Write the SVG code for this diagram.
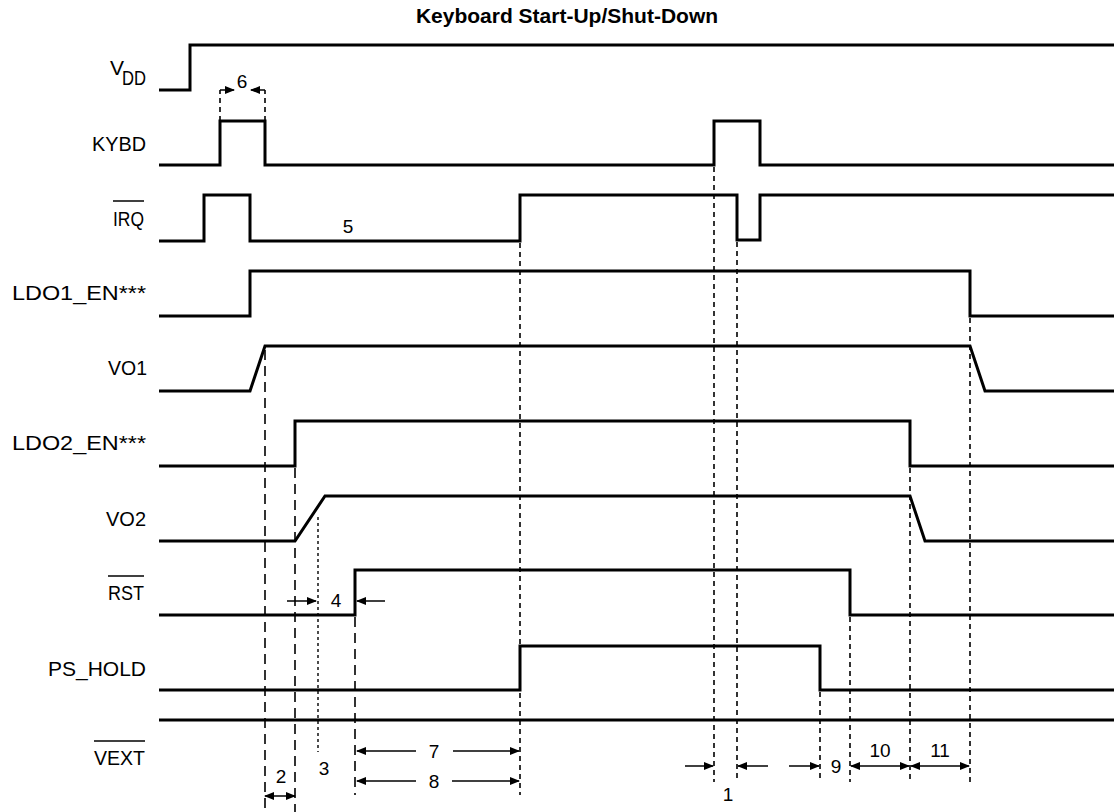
<svg xmlns="http://www.w3.org/2000/svg" width="1114" height="812" viewBox="0 0 1114 812">
<style>
.w{fill:none;stroke:#000;stroke-width:3;stroke-linejoin:miter}
.lbl{font-family:"Liberation Sans",Arial,sans-serif;font-size:21px;fill:#000}
.num{font-family:"Liberation Sans",Arial,sans-serif;font-size:19px;fill:#000;text-anchor:middle}
.ov{stroke:#000;stroke-width:1.5}
.dl{fill:none;stroke:#000;stroke-width:1.6;stroke-dasharray:10 6}
.ds{fill:none;stroke:#000;stroke-width:1.6;stroke-dasharray:5 4}
.dt{fill:none;stroke:#000;stroke-width:1.4;stroke-dasharray:3 3}
.ar{fill:none;stroke:#000;stroke-width:1.5}
</style>
<defs>
<marker id="ah" markerWidth="10" markerHeight="8" refX="9" refY="4" orient="auto-start-reverse" markerUnits="userSpaceOnUse">
<path d="M0,0 L10,4 L0,8 Z" fill="#000"/>
</marker>
</defs>
<text x="567" y="23" text-anchor="middle" font-family="Liberation Sans,Arial,sans-serif" font-weight="bold" font-size="21" fill="#000">Keyboard Start-Up/Shut-Down</text>

<g id="vdd"><path class="w" d="M159,90 H190 V45 H1114"/><text class="lbl" x="110" y="75">V</text><text class="lbl" x="122" y="85" font-size="17" textLength="24" lengthAdjust="spacingAndGlyphs">DD</text></g>
<g id="kybd"><path class="w" d="M159,165 H220 V121 H265 V165 H714 V121 H760 V165 H1114"/><text class="lbl" x="92" y="151" textLength="54" lengthAdjust="spacingAndGlyphs">KYBD</text></g>
<g id="irq"><path class="w" d="M159,241 H204 V195 H250 V241 H520 V195 H737 V240 H760 V195 H1114"/><text class="lbl" x="113" y="226" textLength="31" lengthAdjust="spacingAndGlyphs">IRQ</text><line class="ov" x1="113" y1="201" x2="144" y2="201"/></g>
<g id="ldo1en"><path class="w" d="M159,316 H250 V271 H970 V316 H1114"/><text class="lbl" x="12" y="300" textLength="134" lengthAdjust="spacingAndGlyphs">LDO1_EN***</text></g>
<g id="vo1"><path class="w" d="M159,391 H250 L265,346 H970 L985,391 H1114"/><text class="lbl" x="108" y="375" textLength="39" lengthAdjust="spacingAndGlyphs">VO1</text></g>
<g id="ldo2en"><path class="w" d="M159,466 H295 V421 H910 V466 H1114"/><text class="lbl" x="12" y="450" textLength="134" lengthAdjust="spacingAndGlyphs">LDO2_EN***</text></g>
<g id="vo2"><path class="w" d="M159,541 H295 L325,496 H910 L925,541 H1114"/><text class="lbl" x="106" y="526" textLength="40" lengthAdjust="spacingAndGlyphs">VO2</text></g>
<g id="rst"><path class="w" d="M159,615 H355 V570 H850 V615 H1114"/><text class="lbl" x="108" y="600" textLength="36" lengthAdjust="spacingAndGlyphs">RST</text><line class="ov" x1="108" y1="576" x2="144" y2="576"/></g>
<g id="pshold"><path class="w" d="M159,690 H520 V646 H820 V690 H1114"/><text class="lbl" x="48" y="676" textLength="98" lengthAdjust="spacingAndGlyphs">PS_HOLD</text></g>
<g id="vext"><path class="w" d="M159,720 H1114"/><text class="lbl" x="94" y="765" textLength="51" lengthAdjust="spacingAndGlyphs">VEXT</text><line class="ov" x1="94" y1="741" x2="145" y2="741"/></g>

<g id="connectors">
<path class="ds" d="M220,121 V90 M265,121 V90"/>
<path class="ar" d="M220,90 H234" marker-end="url(#ah)"/>
<path class="ar" d="M265,90 H251" marker-end="url(#ah)"/>
<path class="dl" d="M265,350 V812 M295,468 V812 M355,617 V795"/>
<path class="dt" d="M318,517 V752"/>
<path class="ds" d="M520,243 V795 M714,167 V782 M737,242 V782 M820,692 V782 M850,617 V782 M910,468 V782 M970,318 V782"/>
<path class="ar" d="M287,601 H316" marker-end="url(#ah)"/>
<path class="ar" d="M385,601 H357" marker-end="url(#ah)"/>
<path class="ar" d="M265,796 H295" marker-start="url(#ah)" marker-end="url(#ah)"/>
<path class="ar" d="M416,751 H357" marker-end="url(#ah)"/>
<path class="ar" d="M453,751 H519" marker-end="url(#ah)"/>
<path class="ar" d="M416,781 H357" marker-end="url(#ah)"/>
<path class="ar" d="M452,781 H519" marker-end="url(#ah)"/>
<path class="ar" d="M685,766 H713" marker-end="url(#ah)"/>
<path class="ar" d="M768,766 H738" marker-end="url(#ah)"/>
<path class="ar" d="M789,766 H819" marker-end="url(#ah)"/>
<path class="ar" d="M851,766 H909" marker-start="url(#ah)" marker-end="url(#ah)"/>
<path class="ar" d="M911,766 H969" marker-start="url(#ah)" marker-end="url(#ah)"/>
</g>

<g id="numbers">
<text class="num" x="242" y="88" font-size="18">6</text>
<text class="num" x="348" y="233" font-size="18">5</text>
<text class="num" x="336" y="607" font-size="18">4</text>
<text class="num" x="324" y="775">3</text>
<text class="num" x="281" y="783">2</text>
<text class="num" x="434" y="758">7</text>
<text class="num" x="434" y="788">8</text>
<text class="num" x="728" y="801">1</text>
<text class="num" x="836" y="773">9</text>
<text class="num" x="880" y="757">10</text>
<text class="num" x="940" y="757">11</text>
</g>
</svg>
